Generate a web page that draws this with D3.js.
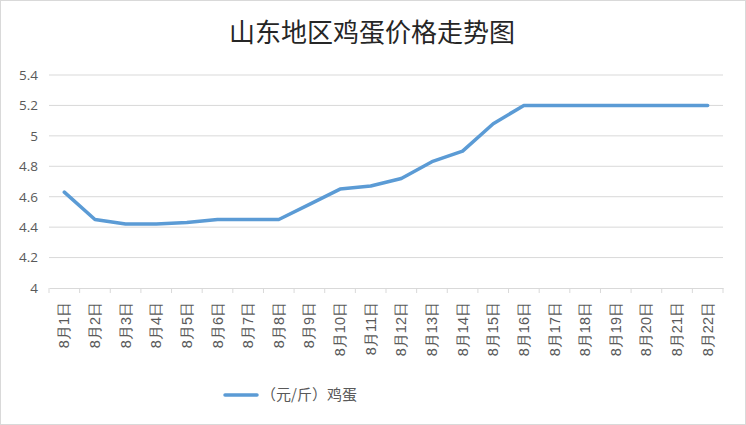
<!DOCTYPE html>
<html>
<head>
<meta charset="utf-8">
<script src="https://cdn.jsdelivr.net/npm/d3@7.9.0/dist/d3.min.js"></script>
<style>
  html, body { margin: 0; padding: 0; background: #fff; }
  svg { display: block; font-family: "Noto Sans CJK SC", "Noto Sans", sans-serif; }
</style>
</head>
<body>
<svg id="chart"></svg>
<script>
// data
const dates = ["8月1日","8月2日","8月3日","8月4日","8月5日","8月6日","8月7日","8月8日","8月9日","8月10日","8月11日",
               "8月12日","8月13日","8月14日","8月15日","8月16日","8月17日","8月18日","8月19日","8月20日","8月21日","8月22日"];
const prices = [4.63,4.45,4.42,4.42,4.43,4.45,4.45,4.45,4.55,4.65,4.67,
                4.72,4.83,4.9,5.08,5.2,5.2,5.2,5.2,5.2,5.2,5.2];
const yTicks = [4,4.2,4.4,4.6,4.8,5,5.2,5.4];
const seriesName = "（元/斤）鸡蛋";
const title = "山东地区鸡蛋价格走势图";

const width = 746, height = 425;
const margin = {left: 49, right: 23, top: 75, bottom: 137};

const svg = d3.select("#chart").attr("width", width).attr("height", height);

svg.append("rect")
    .attr("x", 0.5).attr("y", 0.5)
    .attr("width", width - 1).attr("height", height - 1)
    .attr("fill", "#fff").attr("stroke", "#d9d9d9");

svg.append("text")
    .attr("x", 372).attr("y", 42)
    .attr("text-anchor", "middle")
    .attr("font-size", 26)
    .attr("fill", "#262626")
    .text(title);

const x = d3.scaleBand().domain(dates).range([margin.left, width - margin.right]);
const y = d3.scaleLinear().domain([4, 5.4]).range([height - margin.bottom, margin.top]);

// gridlines
svg.append("g").selectAll("line").data(yTicks.slice(1)).join("line")
    .attr("x1", margin.left).attr("x2", width - margin.right)
    .attr("y1", d => y(d)).attr("y2", d => y(d))
    .attr("stroke", "#d9d9d9").attr("stroke-width", 1);

// y labels
const yAxis = svg.append("g")
    .attr("transform", `translate(${margin.left},0)`)
    .call(d3.axisLeft(y).tickValues(yTicks).tickFormat(d3.format("~g")).tickSize(0).tickPadding(11));
yAxis.select(".domain").remove();
yAxis.selectAll("text").attr("font-size", 13.5).attr("fill", "#595959")
    .attr("font-family", "'Open Sans', 'Noto Sans', sans-serif");

// x axis
const xAxis = svg.append("g")
    .attr("transform", `translate(0,${y(4)})`)
    .call(d3.axisBottom(x).tickSize(0));
xAxis.select(".domain").attr("stroke", "#d9d9d9");
xAxis.selectAll("text")
    .attr("font-size", 14.5).attr("fill", "#595959")
    .attr("transform", "rotate(-90)")
    .attr("text-anchor", "end")
    .attr("x", -14).attr("y", 0).attr("dy", "0.35em");

// tick marks at category boundaries
const bounds = dates.map(d => x(d)).concat([x(dates[dates.length - 1]) + x.bandwidth()]);
svg.append("g").selectAll("line").data(bounds).join("line")
    .attr("x1", d => d).attr("x2", d => d)
    .attr("y1", y(4)).attr("y2", y(4) + 5)
    .attr("stroke", "#d9d9d9");

// line
const line = d3.line()
    .x((d, i) => x(dates[i]) + x.bandwidth() / 2)
    .y(d => y(d));
svg.append("path")
    .datum(prices)
    .attr("d", line)
    .attr("fill", "none")
    .attr("stroke", "#5b9bd5")
    .attr("stroke-width", 3.5)
    .attr("stroke-linejoin", "round")
    .attr("stroke-linecap", "round");

// legend
const lg = svg.append("g").attr("transform", "translate(225,395)");
lg.append("line").attr("x1", 0).attr("x2", 32).attr("y1", 0).attr("y2", 0)
    .attr("stroke", "#5b9bd5").attr("stroke-width", 3.5).attr("stroke-linecap", "round");
lg.append("text").attr("x", 36).attr("y", 0).attr("dy", "0.35em")
    .attr("font-size", 15).attr("fill", "#595959").text(seriesName);
</script>
</body>
</html>
